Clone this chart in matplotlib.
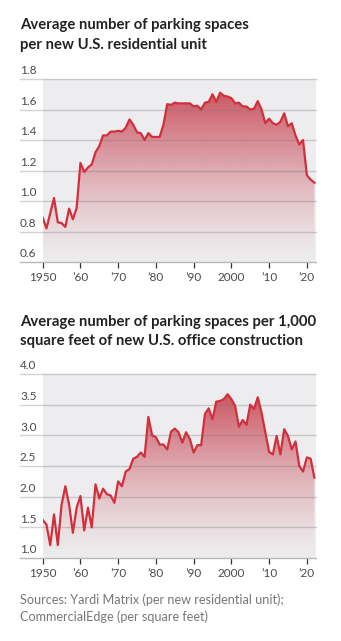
"""Parking spaces per new residential unit / per 1,000 sq ft of office space"""
import numpy as np
import matplotlib
matplotlib.use('Agg')
import matplotlib.pyplot as plt
from matplotlib.colors import to_rgb
from matplotlib.transforms import blended_transform_factory, offset_copy

### data ###

years = list(range(1950, 2023))

# average parking spaces per new U.S. residential unit
residential = [0.89, 0.82, 0.92, 1.02, 0.86, 0.855, 0.83, 0.95, 0.88, 0.955,
               1.25, 1.19, 1.22, 1.24, 1.32, 1.36, 1.43, 1.43, 1.455, 1.455,
               1.46, 1.455, 1.48, 1.535, 1.50, 1.45, 1.445, 1.40, 1.445, 1.42,
               1.42, 1.42, 1.50, 1.635, 1.63, 1.645, 1.64, 1.64, 1.64, 1.64,
               1.62, 1.625, 1.60, 1.645, 1.65, 1.70, 1.65, 1.71, 1.69, 1.685,
               1.675, 1.64, 1.645, 1.62, 1.62, 1.60, 1.605, 1.655, 1.60, 1.51,
               1.54, 1.51, 1.50, 1.52, 1.575, 1.49, 1.51, 1.43, 1.37, 1.40,
               1.17, 1.14, 1.12]

# average parking spaces per 1,000 sq ft of new U.S. office construction
office = [1.62, 1.545, 1.21, 1.71, 1.21, 1.87, 2.17, 1.87, 1.41, 1.82,
          2.01, 1.45, 1.82, 1.50, 2.20, 1.97, 2.13, 2.04, 2.02, 1.90,
          2.25, 2.17, 2.41, 2.45, 2.62, 2.65, 2.72, 2.65, 3.30, 3.00,
          2.97, 2.85, 2.85, 2.77, 3.06, 3.11, 3.05, 2.88, 3.05, 2.94,
          2.72, 2.84, 2.84, 3.35, 3.44, 3.26, 3.55, 3.56, 3.59, 3.67,
          3.59, 3.48, 3.14, 3.25, 3.17, 3.50, 3.43, 3.62, 3.37, 3.05,
          2.73, 2.69, 2.99, 2.69, 3.10, 2.99, 2.77, 2.90, 2.50, 2.41,
          2.64, 2.62, 2.31]

xticks = [1950, 1960, 1970, 1980, 1990, 2000, 2010, 2020]
xticklabels = ['1950', '\u201960', '\u201970', '\u201980', '\u201990', '2000', '\u201910', '\u201920']

res_ticks = [0.6, 0.8, 1.0, 1.2, 1.4, 1.6, 1.8]
off_ticks = [1.0, 1.5, 2.0, 2.5, 3.0, 3.5, 4.0]

### style ###

plt.rcParams['font.family'] = ['Lato', 'DejaVu Sans']
RED = '#d12f3c'
FILL = '#c7414f'
BG = '#ededef'
TEXT = '#4a4a4a'
W, H = 341, 641


def panel(rect, y, ticks, ylabels):
    ax = fig.add_axes(rect)
    ax.set_facecolor(BG)
    x = np.array(years)
    y = np.array(y)
    lo, hi = ticks[0], ticks[-1]

    # gradient fill under the line, clipped to the area polygon
    poly = ax.fill_between(x, y, lo, facecolor='none', edgecolor='none')
    n = 256
    rgba = np.zeros((n, 1, 4))
    rgba[..., :3] = to_rgb(FILL)
    rgba[:, 0, 3] = np.linspace(0.0, 0.9, n) ** 1.3
    im = ax.imshow(rgba, extent=[x[0], x[-1], lo, y.max()], origin='lower',
                   aspect='auto', zorder=2, interpolation='bilinear')
    im.set_clip_path(poly.get_paths()[0], transform=ax.transData)

    ax.plot(x, y, color=RED, lw=1.6, zorder=4, solid_joinstyle='round')

    ax.set_xlim(1950, 2022.3)
    ax.set_ylim(lo, hi)

    # gridlines reach out under the labels and show through the fill
    ext = (W * rect[0] - 20) / (W * rect[2])
    for t in ticks[1:]:
        ax.axhline(t, xmin=-ext, xmax=1, color='#777777', alpha=0.32, lw=1.0,
                   zorder=3, clip_on=False)
    ax.axhline(lo, xmin=-ext, xmax=1, color='#b8b8b8', lw=1.0, zorder=5, clip_on=False)

    tr = blended_transform_factory(fig.transFigure, ax.transData)
    tr = offset_copy(tr, fig=fig, y=2, units='points')
    for t, lab in zip(ticks, ylabels):
        ax.text(20 / W, t, lab, transform=tr, ha='left', va='bottom',
                fontsize=8.5, color=TEXT)

    for s in ax.spines.values():
        s.set_visible(False)
    ax.set_yticks([])
    ax.set_xticks(xticks)
    ax.set_xticklabels(xticklabels, fontsize=8.5, color=TEXT)
    ax.tick_params(axis='x', length=4, width=0.9, color='#333333', pad=3)
    return ax


fig = plt.figure(figsize=(W / 100, H / 100), dpi=100)

# titles
bold = dict(fontsize=10.7, fontweight='bold', color='#222222', ha='left', va='baseline')
fig.text(20 / W, 1 - 29 / H, 'Average number of parking spaces', **bold)
fig.text(20 / W, 1 - 49 / H, 'per new U.S. residential unit', **bold)
fig.text(20 / W, 1 - 326 / H, 'Average number of parking spaces per 1,000', **bold)
fig.text(20 / W, 1 - 345 / H, 'square feet of new U.S. office construction', **bold)

panel([42.7 / W, 1 - 262 / H, (315.5 - 42.7) / W, (262 - 79) / H],
      residential, res_ticks, ['%.1f' % t for t in res_ticks])
panel([42.7 / W, 1 - 558 / H, (315.5 - 42.7) / W, (558 - 374) / H],
      office, off_ticks, ['%.1f' % t for t in off_ticks])

src = dict(fontsize=9.1, color='#777777', ha='left', va='baseline')
fig.text(20 / W, 1 - 604 / H, 'Sources: Yardi Matrix (per new residential unit);', **src)
fig.text(20 / W, 1 - 621 / H, 'CommercialEdge (per square feet)', **src)

fig.savefig('out.png', dpi=100)
